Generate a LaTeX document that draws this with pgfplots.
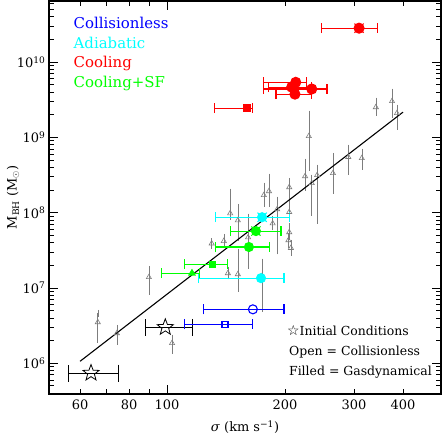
\documentclass[border=0pt]{standalone}
\usepackage{fontspec}
\setmainfont{DejaVu Serif}
\newfontfamily\symfont{DejaVu Sans}
\usepackage{pgfplots}
\pgfplotsset{compat=1.18}
\usepackage{pgfplotstable}

\definecolor{cl}{RGB}{0,0,255}
\definecolor{ad}{RGB}{0,255,255}
\definecolor{co}{RGB}{255,0,0}
\definecolor{sf}{RGB}{0,255,0}
\definecolor{obs}{RGB}{125,125,125}

% open five-pointed star
\pgfdeclareplotmark{ostar}{%
  \pgfpathmoveto{\pgfpointpolar{90}{\pgfplotmarksize}}%
  \pgfpathlineto{\pgfpointpolar{126}{0.42*\pgfplotmarksize}}%
  \pgfpathlineto{\pgfpointpolar{162}{\pgfplotmarksize}}%
  \pgfpathlineto{\pgfpointpolar{198}{0.42*\pgfplotmarksize}}%
  \pgfpathlineto{\pgfpointpolar{234}{\pgfplotmarksize}}%
  \pgfpathlineto{\pgfpointpolar{270}{0.42*\pgfplotmarksize}}%
  \pgfpathlineto{\pgfpointpolar{306}{\pgfplotmarksize}}%
  \pgfpathlineto{\pgfpointpolar{342}{0.42*\pgfplotmarksize}}%
  \pgfpathlineto{\pgfpointpolar{18}{\pgfplotmarksize}}%
  \pgfpathlineto{\pgfpointpolar{54}{0.42*\pgfplotmarksize}}%
  \pgfpathclose\pgfusepathqstroke}

% observed galaxies: sigma, M_BH, error minus, error plus
\pgfplotstableread{
s m em ep
66.6 3.5e6 1.42e6 1.1e6
74.5 2.5e6 0.54e6 0.4e6
89.9 1.39e7 4.8e6 3.8e6
103 1.85e6 0.36e6 0.30e6
130 3.9e7 2e6 2e6
139.6 4.2e7 4e6 5e6
143 1.57e7 1.2e6 1.3e6
144.9 9.8e7 8e6 8.9e7
151.6 7.9e7 3.2e7 3.9e7
151.6 1.52e7 5.3e6 1.48e7
161 4.7e7 2.7e7 4.0e7
174.6 1.43e7 8.9e6 7.7e6
176.6 1.71e8 3.7e7 5.4e7
182 1.93e8 5.9e7 1.03e8
186 7.2e7 7e6 8e6
191 1.11e8 8.0e7 3.6e7
205 2.18e8 4.8e7 4.2e7
205 1.02e8 1.7e7 3.8e7
205 5.5e7 7e6 1.0e7
204 4.3e7 5e6 5e6
207 3.4e7 4e6 5e6
225 3.05e8 8.7e7 1.65e8
230 1.04e9 6.37e8 1.0e9
234 2.47e8 1.45e8 4.0e7
241.5 3.15e8 2.36e8 7.5e7
265 3.35e8 1.36e8 2.25e8
290 5.5e8 1.94e8 1.7e8
314 5.3e8 1.15e8 1.1e8
341 2.52e9 3.5e8 5.1e8
375 3.03e9 9.9e8 9.7e8
386 2.1e9 6.9e8 3.5e8
}\obsdata

\pgfplotstableread{
s m em ep
64 7.4e5 7.8 11.4
99 3.0e6 11.1 17.4
}\icdata

\pgfplotstableread{
s m em ep
165.6 5.2e6 41.6 33.2
}\clcirc
\pgfplotstableread{
s m em ep
140.6 3.3e6 29.6 25
}\clsq

\pgfplotstableread{
s m em ep
173.7 1.35e7 53.7 25.1
174.8 8.7e7 41.8 30.2
}\adcirc

\pgfplotstableread{
s m em ep
168.6 5.7e7 23.1 26.8
161.8 3.5e7 28.8 21.2
}\sfcirc
\pgfplotstableread{
s m em ep
130.3 2.07e7 19.3 12.7
}\sfsq
\pgfplotstableread{
s m em ep
115.8 1.57e7 18.8 5.2
}\sftri

\pgfplotstableread{
s m em ep
309 2.83e10 61 36
213 5.4e9 36.5 14.5
208 4.66e9 26 26
234 4.4e9 57.5 22
212 3.76e9 22.3 22
}\cocirc
\pgfplotstableread{
s m em ep
160 2.45e9 28 5
}\cosq

\pgfplotsset{
  xbars/.style={error bars/.cd, x dir=both, x explicit, error mark=|,
    error bar style={line width=1.1pt, #1},
    error mark options={#1, line width=1.1pt, mark size=5bp}},
}

\begin{document}
\begin{tikzpicture}
\begin{axis}[
  scale only axis, width=392bp, height=393bp,
  xmode=log, ymode=log,
  xmin=50, xmax=500, ymin=3.9e5, ymax=6.5e10,
  axis line style={line width=1.2pt},
  tick align=inside,
  major tick length=9bp, minor tick length=5bp,
  every tick/.style={black, line width=0.8pt},
  xtick={100}, xticklabels={100},
  extra x ticks={60,80,200,300,400},
  extra x tick labels={60,80,200,300,400},
  extra x tick style={major tick length=5bp},
  minor xtick={50,70,90,500},
  ytick={1e6,1e7,1e8,1e9,1e10},
  yticklabels={10\textsuperscript{6},10\textsuperscript{7},10\textsuperscript{8},10\textsuperscript{9},10\textsuperscript{10}},
  minor ytick={4e5,5e5,6e5,7e5,8e5,9e5,2e6,3e6,4e6,5e6,6e6,7e6,8e6,9e6,2e7,3e7,4e7,5e7,6e7,7e7,8e7,9e7,2e8,3e8,4e8,5e8,6e8,7e8,8e8,9e8,2e9,3e9,4e9,5e9,6e9,7e9,8e9,9e9,2e10,3e10,4e10,5e10,6e10},
  tick label style={font=\fontsize{13}{13}\selectfont},
  xticklabel style={yshift=-2bp},
  xlabel={\textit{σ} (km s\textsuperscript{−1})},
  ylabel={M\textsubscript{BH} (M$_\odot$)},
  every axis x label/.style={at={(rel axis cs:0.5,0)}, anchor=center, yshift=-33bp, font=\fontsize{13}{13}\selectfont},
  every axis y label/.style={at={(rel axis cs:0,0.5)}, anchor=center, xshift=-36bp, rotate=90, font=\fontsize{13}{13}\selectfont},
  clip=false,
]
% observed sample
\addplot[only marks, mark=triangle, mark size=3bp, color=obs, line width=0.6pt,
  error bars/.cd, y dir=both, y explicit, error mark=-,
  error bar style={line width=0.6pt, obs},
  error mark options={obs, line width=0.6pt, mark size=3.5bp}]
  table[x=s, y=m, y error minus=em, y error plus=ep] {\obsdata};

% M-sigma fit
\addplot[black, line width=1.1pt, no marks] coordinates {(60,1.06e6) (400,2.17e9)};

% initial conditions
\addplot[only marks, mark=ostar, mark size=8.5bp, black, line width=0.8pt,
  error bars/.cd, x dir=both, x explicit, error mark=|,
  error bar style={line width=1.1pt, black},
  error mark options={black, line width=1.1pt, mark size=8.5bp}]
  table[x=s, y=m, x error minus=em, x error plus=ep] {\icdata};

% collisionless
\addplot[only marks, mark=o, mark size=4.5bp, cl, line width=1.1pt, xbars=cl]
  table[x=s, y=m, x error minus=em, x error plus=ep] {\clcirc};
\addplot[only marks, mark=square, mark size=3bp, cl, line width=1.1pt, xbars=cl]
  table[x=s, y=m, x error minus=em, x error plus=ep] {\clsq};

% adiabatic
\addplot[only marks, mark=*, mark size=4.5bp, ad, line width=1.1pt, xbars=ad]
  table[x=s, y=m, x error minus=em, x error plus=ep] {\adcirc};

% cooling + SF
\addplot[only marks, mark=*, mark size=4.5bp, sf, line width=1.1pt, xbars=sf]
  table[x=s, y=m, x error minus=em, x error plus=ep] {\sfcirc};
\addplot[only marks, mark=square*, mark size=3bp, sf, line width=1.1pt, xbars=sf]
  table[x=s, y=m, x error minus=em, x error plus=ep] {\sfsq};
\addplot[only marks, mark=triangle*, mark size=3.5bp, sf, line width=1.1pt, xbars=sf]
  table[x=s, y=m, x error minus=em, x error plus=ep] {\sftri};

% cooling
\addplot[only marks, mark=*, mark size=5bp, co, line width=1.1pt, xbars=co]
  table[x=s, y=m, x error minus=em, x error plus=ep] {\cocirc};
\addplot[only marks, mark=square*, mark size=3.5bp, co, line width=1.1pt, xbars=co]
  table[x=s, y=m, x error minus=em, x error plus=ep] {\cosq};

% crosses over the final states
\addplot[only marks, mark=x, mark size=6.5bp, co, line width=1pt] coordinates {(309,2.83e10)};
\addplot[only marks, mark=x, mark size=6.5bp, ad, line width=1pt] coordinates {(174.8,8.7e7)};
\addplot[only marks, mark=x, mark size=6.5bp, sf, line width=1pt] coordinates {(168.6,5.7e7)};

% labels
\node[anchor=base west, text=cl, font=\fontsize{15}{15}\selectfont] at (rel axis cs:0.054,0.931) {Collisionless};
\node[anchor=base west, text=ad, font=\fontsize{15}{15}\selectfont] at (rel axis cs:0.054,0.880) {Adiabatic};
\node[anchor=base west, text=co, font=\fontsize{15}{15}\selectfont] at (rel axis cs:0.054,0.832) {Cooling};
\node[anchor=base west, text=sf, font=\fontsize{15}{15}\selectfont] at (rel axis cs:0.054,0.781) {Cooling+SF};

\node[anchor=base west, inner sep=0pt, font=\fontsize{12.5}{13}\selectfont] at (rel axis cs:0.607,0.148) {{\symfont\fontsize{14}{14}\selectfont ☆}Initial Conditions};
\node[anchor=base west, inner sep=0pt, font=\fontsize{12.5}{13}\selectfont] at (rel axis cs:0.612,0.099) {Open = Collisionless};
\node[anchor=base west, inner sep=0pt, font=\fontsize{12.5}{13}\selectfont] at (rel axis cs:0.612,0.048) {Filled = Gasdynamical};
\end{axis}
\pgfresetboundingbox
\path ([shift={(-49bp,-41bp)}]current axis.south west) rectangle ([shift={(2bp,1bp)}]current axis.north east);
\end{tikzpicture}
\end{document}
